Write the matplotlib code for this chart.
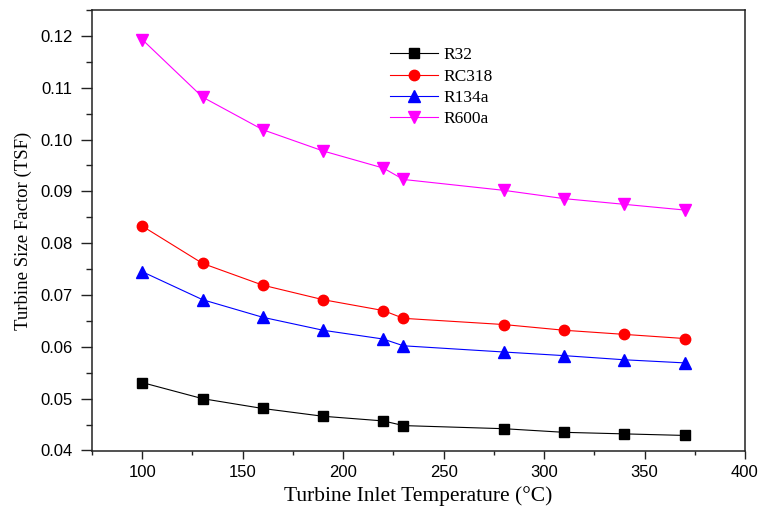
import matplotlib
matplotlib.use("Agg")
import matplotlib.pyplot as plt
from matplotlib.ticker import MultipleLocator, FormatStrFormatter

# turbine inlet temperature, degC
tit = [100, 130, 160, 190, 220, 230, 280, 310, 340, 370]

# turbine size factor for each working fluid
r32 = [0.0531, 0.0500, 0.0481, 0.0466, 0.0457, 0.0448, 0.0442, 0.0435, 0.0432, 0.0429]
rc318 = [0.0833, 0.0761, 0.0719, 0.0691, 0.0670, 0.0655, 0.0643, 0.0632, 0.0624, 0.0616]
r134a = [0.0745, 0.0691, 0.0657, 0.0632, 0.0615, 0.0602, 0.0590, 0.0583, 0.0575, 0.0569]
r600a = [0.1193, 0.1082, 0.1019, 0.0978, 0.0945, 0.0923, 0.0902, 0.0886, 0.0875, 0.0864]

serif = "Liberation Serif"
sans = "Liberation Sans"

fig = plt.figure(figsize=(7.63, 5.14), dpi=100)
ax = fig.add_axes([0.1206, 0.1226, 0.8558, 0.8579])

ax.plot(tit, r32, "-s", color="black", lw=0.8, ms=7, label="R32")
ax.plot(tit, rc318, "-o", color="red", lw=0.8, ms=7.5, label="RC318")
ax.plot(tit, r134a, "-^", color="blue", lw=0.8, ms=8.5, label="R134a")
ax.plot(tit, r600a, "-v", color="magenta", lw=0.8, ms=8.5, label="R600a")

ax.set_xlim(75, 400)
ax.set_ylim(0.0399, 0.125)
ax.xaxis.set_major_locator(MultipleLocator(50))
ax.xaxis.set_minor_locator(MultipleLocator(25))
ax.yaxis.set_major_locator(MultipleLocator(0.01))
ax.yaxis.set_minor_locator(MultipleLocator(0.005))
ax.yaxis.set_major_formatter(FormatStrFormatter("%.2f"))

ax.tick_params(which="both", direction="out", top=False, right=False, width=1, color="#222222")
ax.tick_params(axis="x", which="major", length=5.8, pad=4, labelsize=12)
ax.tick_params(axis="x", which="minor", length=3)
ax.tick_params(axis="y", which="major", length=8, pad=6, labelsize=12)
ax.tick_params(axis="y", which="minor", length=4.3)
for lab in ax.get_xticklabels() + ax.get_yticklabels():
    lab.set_family(sans)
for sp in ax.spines.values():
    sp.set_linewidth(1.1)
    sp.set_color("#222222")

ax.set_xlabel("Turbine Inlet Temperature (°C)", family=serif, fontsize=15.5, labelpad=5)
ax.set_ylabel("Turbine Size Factor (TSF)", family=serif, fontsize=13.5, labelpad=6)

ax.legend(loc="upper left", bbox_to_anchor=(0.456, 0.916), frameon=False,
          prop={"family": serif, "size": 12.5}, handlelength=2.8,
          labelspacing=0.3, handletextpad=0.3, borderpad=0, borderaxespad=0)

fig.savefig("out.png", dpi=100)
